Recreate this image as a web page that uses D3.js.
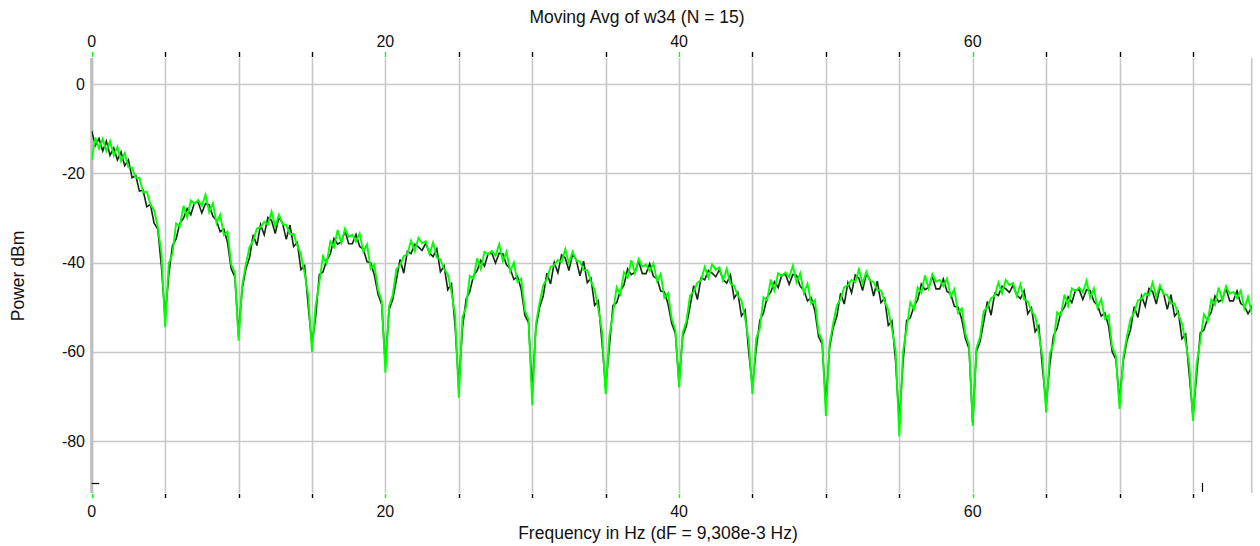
<!DOCTYPE html>
<html>
<head>
<meta charset="utf-8">
<script src="https://cdn.jsdelivr.net/npm/d3@7"></script>
<style>
  html, body { margin: 0; padding: 0; background: #fff; }
  svg { display: block; }
  text { font-family: "Liberation Sans", Arial, sans-serif; fill: #111; }
</style>
</head>
<body>
<svg id="chart" width="1260" height="546"></svg>
<script>
// ---------------- data ----------------
const chartTitle = "Moving Avg of w34 (N = 15)";
const xTitle = "Frequency in Hz (dF = 9,308e-3 Hz)";
const yTitle = "Power dBm";
const freqStepHz = 0.25;          // sampling grid of the arrays below
const xDomain = [0, 79];
const yDomain = [-91.65, 5.83];
const xGridTicks = [0,5,10,15,20,25,30,35,40,45,50,55,60,65,70,75];
const xLabelTicks = [0, 20, 40, 60];
const yTicks = [0, -20, -40, -60, -80];
const cursorLevelDb = -89.3;
const cursorFreqHz = 75.6;

// bright green trace (dBm), one value per 0.25 Hz
const powerGreen = [
 -17, -12.0, -14.5, -12.3, -15, -12.8, -16, -14.1, -17.3, -15.5, -18.7, -18.8, -21, -21, -24.3, -24.1, -27, -28.3, -32, -38,
 -54.5, -40.2,-38.0,-31.2,-31.9,-27.3,-29.9,-26.1,-26.8,-26.0,-27.3,-24.8,-28.7,-26.7,-31.2,-29.3,-33.8,-33.1,-40.4,-42.4,
 -57.5, -45.1,-40.4,-36.5,-35.1,-32.4,-32.1,-30.9,-31.5,-28.6,-31.9,-29.3,-31.4,-31.6,-33.6,-33.6,-36.2,-38.1,-42.5,-47.4,
 -60, -49.7,-44.5,-38.6,-40.2,-35.3,-36.6,-32.7,-35.6,-32.4,-34.2,-33.8,-35.3,-33.5,-37.6,-36.0,-41.4,-40.4,-46.1,-48.6,
 -64.7, -49.8,-47.3,-41.5,-40.6,-38.6,-38.1,-35.1,-37.5,-34.5,-35.7,-35.2,-38.1,-35.5,-38.9,-39.3,-41.5,-42.6,-46.6,-51.8,
 -70.3, -52.2,-50.0,-43.0,-43.7,-39.0,-41.5,-37.6,-38.2,-37.4,-38.5,-35.9,-39.7,-37.6,-42.0,-40.0,-44.4,-43.6,-50.8,-52.7,
 -72, -53.8,-49.1,-45.1,-43.7,-41.0,-40.6,-39.4,-39.9,-37.0,-40.2,-37.6,-39.6,-39.8,-41.7,-41.7,-44.2,-46.1,-50.4,-55.3,
 -69.5, -56.6,-51.4,-45.5,-47.1,-42.2,-43.4,-39.5,-42.4,-39.2,-40.9,-40.5,-41.9,-40.2,-44.2,-42.6,-47.9,-46.9,-52.6,-55.1,
 -68, -55.7,-53.2,-47.4,-46.5,-44.5,-44.0,-41.0,-43.4,-40.4,-41.6,-41.1,-44.0,-41.4,-44.8,-45.2,-47.4,-48.5,-52.5,-57.7,
 -69.5, -57.0,-54.8,-47.8,-48.5,-43.8,-46.3,-42.4,-43.0,-42.2,-43.3,-40.7,-44.5,-42.4,-46.8,-44.8,-49.2,-48.4,-55.6,-57.5,
 -74.4, -58.3,-53.6,-49.6,-48.2,-45.5,-45.1,-43.9,-44.4,-41.5,-44.7,-42.1,-44.1,-44.3,-46.2,-46.2,-48.7,-50.6,-54.9,-59.8,
 -79, -60.0,-54.8,-48.9,-50.5,-45.6,-46.8,-42.9,-45.8,-42.6,-44.3,-43.9,-45.3,-43.6,-47.6,-46.0,-51.3,-50.3,-56.0,-58.5,
 -76.6, -59.2,-56.7,-50.9,-50.0,-48.0,-47.5,-44.5,-46.9,-43.9,-45.1,-44.6,-47.5,-44.9,-48.3,-48.7,-50.9,-52.0,-56.0,-61.2,
 -73.6, -60.4,-58.2,-51.2,-51.9,-47.2,-49.7,-45.8,-46.4,-45.6,-46.7,-44.1,-47.9,-45.8,-50.2,-48.2,-52.6,-51.8,-59.0,-60.9,
 -72.8, -61.3,-56.6,-52.6,-51.2,-48.5,-48.1,-46.9,-47.4,-44.5,-47.7,-45.1,-47.1,-47.3,-49.2,-49.2,-51.7,-53.6,-57.9,-62.8,
 -75.5, -62.7,-57.5,-51.6,-53.2,-48.3,-49.5,-45.6,-48.5,-45.3,-47.0,-46.6,-48.0,-46.3,-50.3,-47.7,-51.3,-50.0
];

// dark trace (dBm), one value per 0.25 Hz
const powerDark = [
 -10.5, -13.8, -12.2, -15.0, -12.8, -16, -14.3, -17, -15.2, -18.3, -17, -21, -20.5, -24, -23.8, -27.5, -27, -31.2, -32.5, -41,
 -52.5, -42.7,-36.2,-34.7,-31.2,-30.1,-27.9,-29.3,-26.6,-26.5,-28.9,-26.8,-27.1,-29.6,-30.6,-33.1,-32.5,-35.5,-41.4,-43.2,
 -56, -45.9,-41.4,-38.9,-33.8,-36.2,-31.5,-33.8,-29.9,-30.6,-33.5,-29.8,-31.2,-34.8,-31.6,-36.4,-35.5,-41.6,-40.7,-49.9,
 -58.5, -52.2,-42.7,-42.1,-39.5,-38.1,-34.6,-35.9,-35.4,-32.9,-35.8,-35.8,-33.7,-36.4,-37.0,-39.8,-40.1,-42.8,-47.1,-49.4,
 -63, -50.6,-48.3,-43.9,-39.3,-42.4,-37.5,-38.0,-35.9,-36.5,-37.3,-35.7,-37.9,-38.7,-36.9,-42.1,-40.8,-46.1,-44.8,-54.3,
 -68, -54.7,-48.2,-46.5,-43.0,-41.8,-39.5,-40.8,-38.0,-37.9,-40.1,-37.9,-38.1,-40.5,-41.4,-43.8,-43.1,-46.0,-51.8,-53.5,
 -69, -54.6,-50.1,-47.5,-42.4,-44.8,-40.0,-42.3,-38.3,-39.0,-41.8,-38.1,-39.4,-43.0,-39.7,-44.5,-43.5,-49.6,-48.6,-57.8,
 -68, -59.1,-49.6,-49.0,-46.4,-45.0,-41.4,-42.7,-42.2,-39.7,-42.5,-42.5,-40.3,-43.1,-43.6,-46.4,-46.6,-49.3,-53.6,-55.9,
 -67, -56.5,-54.2,-49.8,-45.2,-48.3,-43.4,-43.9,-41.8,-42.4,-43.2,-41.6,-43.8,-44.6,-42.8,-48.0,-46.7,-52.0,-50.7,-60.2,
 -68, -59.5,-53.0,-51.3,-47.8,-46.6,-44.3,-45.6,-42.8,-42.7,-44.9,-42.7,-42.9,-45.3,-46.2,-48.6,-47.9,-50.8,-56.6,-58.3,
 -72, -59.1,-54.6,-52.0,-46.9,-49.3,-44.5,-46.8,-42.8,-43.5,-46.3,-42.6,-43.9,-47.5,-44.2,-49.0,-48.0,-54.1,-53.1,-62.3,
 -76, -62.5,-53.0,-52.4,-49.8,-48.4,-44.8,-46.1,-45.6,-43.1,-45.9,-45.9,-43.7,-46.5,-47.0,-49.8,-50.0,-52.7,-57.0,-59.3,
 -76, -60.0,-57.7,-53.3,-48.7,-51.8,-46.9,-47.4,-45.3,-45.9,-46.7,-45.1,-47.3,-48.1,-46.3,-51.5,-50.2,-55.5,-54.2,-63.7,
 -72, -62.9,-56.4,-54.7,-51.2,-50.0,-47.7,-49.0,-46.2,-46.1,-48.3,-46.1,-46.3,-48.7,-49.6,-52.0,-51.3,-54.2,-60.0,-61.7,
 -71, -62.1,-57.6,-55.0,-49.9,-52.3,-47.5,-49.8,-45.8,-46.5,-49.3,-45.6,-46.9,-50.5,-47.2,-52.0,-51.0,-57.1,-56.1,-65.3,
 -74.5, -65.2,-55.7,-55.1,-52.5,-51.1,-47.5,-48.8,-48.3,-45.8,-48.6,-48.6,-46.4,-49.2,-49.7,-51.5,-50.0,-52.4
];

// ---------------- chart ----------------
const plot = { left: 91.7, right: 1251.7, top: 58, bottom: 493 };
const svg = d3.select("#chart");
svg.append("rect").attr("width", 1260).attr("height", 546).attr("fill", "#fff");

const x = d3.scaleLinear().domain(xDomain).range([plot.left, plot.right]);
const y = d3.scaleLinear().domain(yDomain).range([plot.bottom, plot.top]);

const grid = svg.append("g");
grid.selectAll("line.v").data(xGridTicks).join("line")
  .attr("x1", d => Math.round(x(d)) + 0.5).attr("x2", d => Math.round(x(d)) + 0.5)
  .attr("y1", plot.top).attr("y2", plot.bottom)
  .attr("stroke", "#c8c8c8").attr("stroke-width", 1.6);
grid.selectAll("line.h").data(yTicks).join("line")
  .attr("x1", plot.left).attr("x2", plot.right)
  .attr("y1", d => Math.round(y(d)) + 0.5).attr("y2", d => Math.round(y(d)) + 0.5)
  .attr("stroke", "#c8c8c8").attr("stroke-width", 1.6);
svg.append("line").attr("x1", plot.left).attr("x2", plot.left)
  .attr("y1", plot.top).attr("y2", plot.bottom)
  .attr("stroke", "#bdbdbd").attr("stroke-width", 3);
svg.append("line").attr("x1", plot.right).attr("x2", plot.right)
  .attr("y1", plot.top).attr("y2", plot.bottom)
  .attr("stroke", "#c8c8c8").attr("stroke-width", 1.6);

const tickColor = d => (xLabelTicks.includes(d) ? "#00ff00" : "#000");
svg.append("g").selectAll("line").data(xGridTicks).join("line")
  .attr("x1", d => Math.round(x(d)) + 0.5).attr("x2", d => Math.round(x(d)) + 0.5)
  .attr("y1", 52).attr("y2", 57).attr("stroke", tickColor).attr("stroke-width", 1.4);
svg.append("g").selectAll("line").data(xGridTicks).join("line")
  .attr("x1", d => Math.round(x(d)) + 0.5).attr("x2", d => Math.round(x(d)) + 0.5)
  .attr("y1", 494).attr("y2", 498).attr("stroke", tickColor).attr("stroke-width", 1.4);

svg.append("g").selectAll("text").data(xLabelTicks).join("text")
  .attr("x", d => x(d)).attr("y", 47).attr("text-anchor", "middle")
  .attr("font-size", 16).text(d => String(d));
svg.append("g").selectAll("text").data(xLabelTicks).join("text")
  .attr("x", d => x(d)).attr("y", 517).attr("text-anchor", "middle")
  .attr("font-size", 16).text(d => String(d));

svg.append("g").selectAll("text").data(yTicks).join("text")
  .attr("x", 85).attr("y", d => y(d) + 5.5).attr("text-anchor", "end")
  .attr("font-size", 16).text(d => String(d));

svg.append("text").attr("x", 637).attr("y", 23).attr("text-anchor", "middle")
  .attr("font-size", 17.5).text(chartTitle);
svg.append("text").attr("x", 658).attr("y", 539).attr("text-anchor", "middle")
  .attr("font-size", 17.5).text(xTitle);
svg.append("text").attr("transform", "translate(24,276) rotate(-90)")
  .attr("text-anchor", "middle").attr("font-size", 17.5).text(yTitle);

// traces
const freqs = powerGreen.map((_, i) => i * freqStepHz);
svg.append("clipPath").attr("id", "clip").append("rect")
  .attr("x", plot.left).attr("y", plot.top)
  .attr("width", plot.right - plot.left).attr("height", plot.bottom - plot.top);
const line = d3.line().x(d => x(d[0])).y(d => y(d[1]));
svg.append("path").datum(freqs.map((f, i) => [f, powerDark[i]]))
  .attr("clip-path", "url(#clip)")
  .attr("fill", "none").attr("stroke", "#102a10").attr("stroke-width", 1.6)
  .attr("d", line);
svg.append("path").datum(freqs.map((f, i) => [f, powerGreen[i]]))
  .attr("clip-path", "url(#clip)")
  .attr("fill", "none").attr("stroke", "#00ff00").attr("stroke-width", 1.9)
  .attr("d", line);

// cursor markers
svg.append("line").attr("x1", x(0)).attr("x2", x(0) + 7.5)
  .attr("y1", Math.round(y(cursorLevelDb)) + 0.5).attr("y2", Math.round(y(cursorLevelDb)) + 0.5)
  .attr("stroke", "#000").attr("stroke-width", 1.2);
svg.append("line").attr("x1", Math.round(x(cursorFreqHz)) + 0.5).attr("x2", Math.round(x(cursorFreqHz)) + 0.5)
  .attr("y1", 483).attr("y2", 492)
  .attr("stroke", "#000").attr("stroke-width", 1.2);
</script>
</body>
</html>
